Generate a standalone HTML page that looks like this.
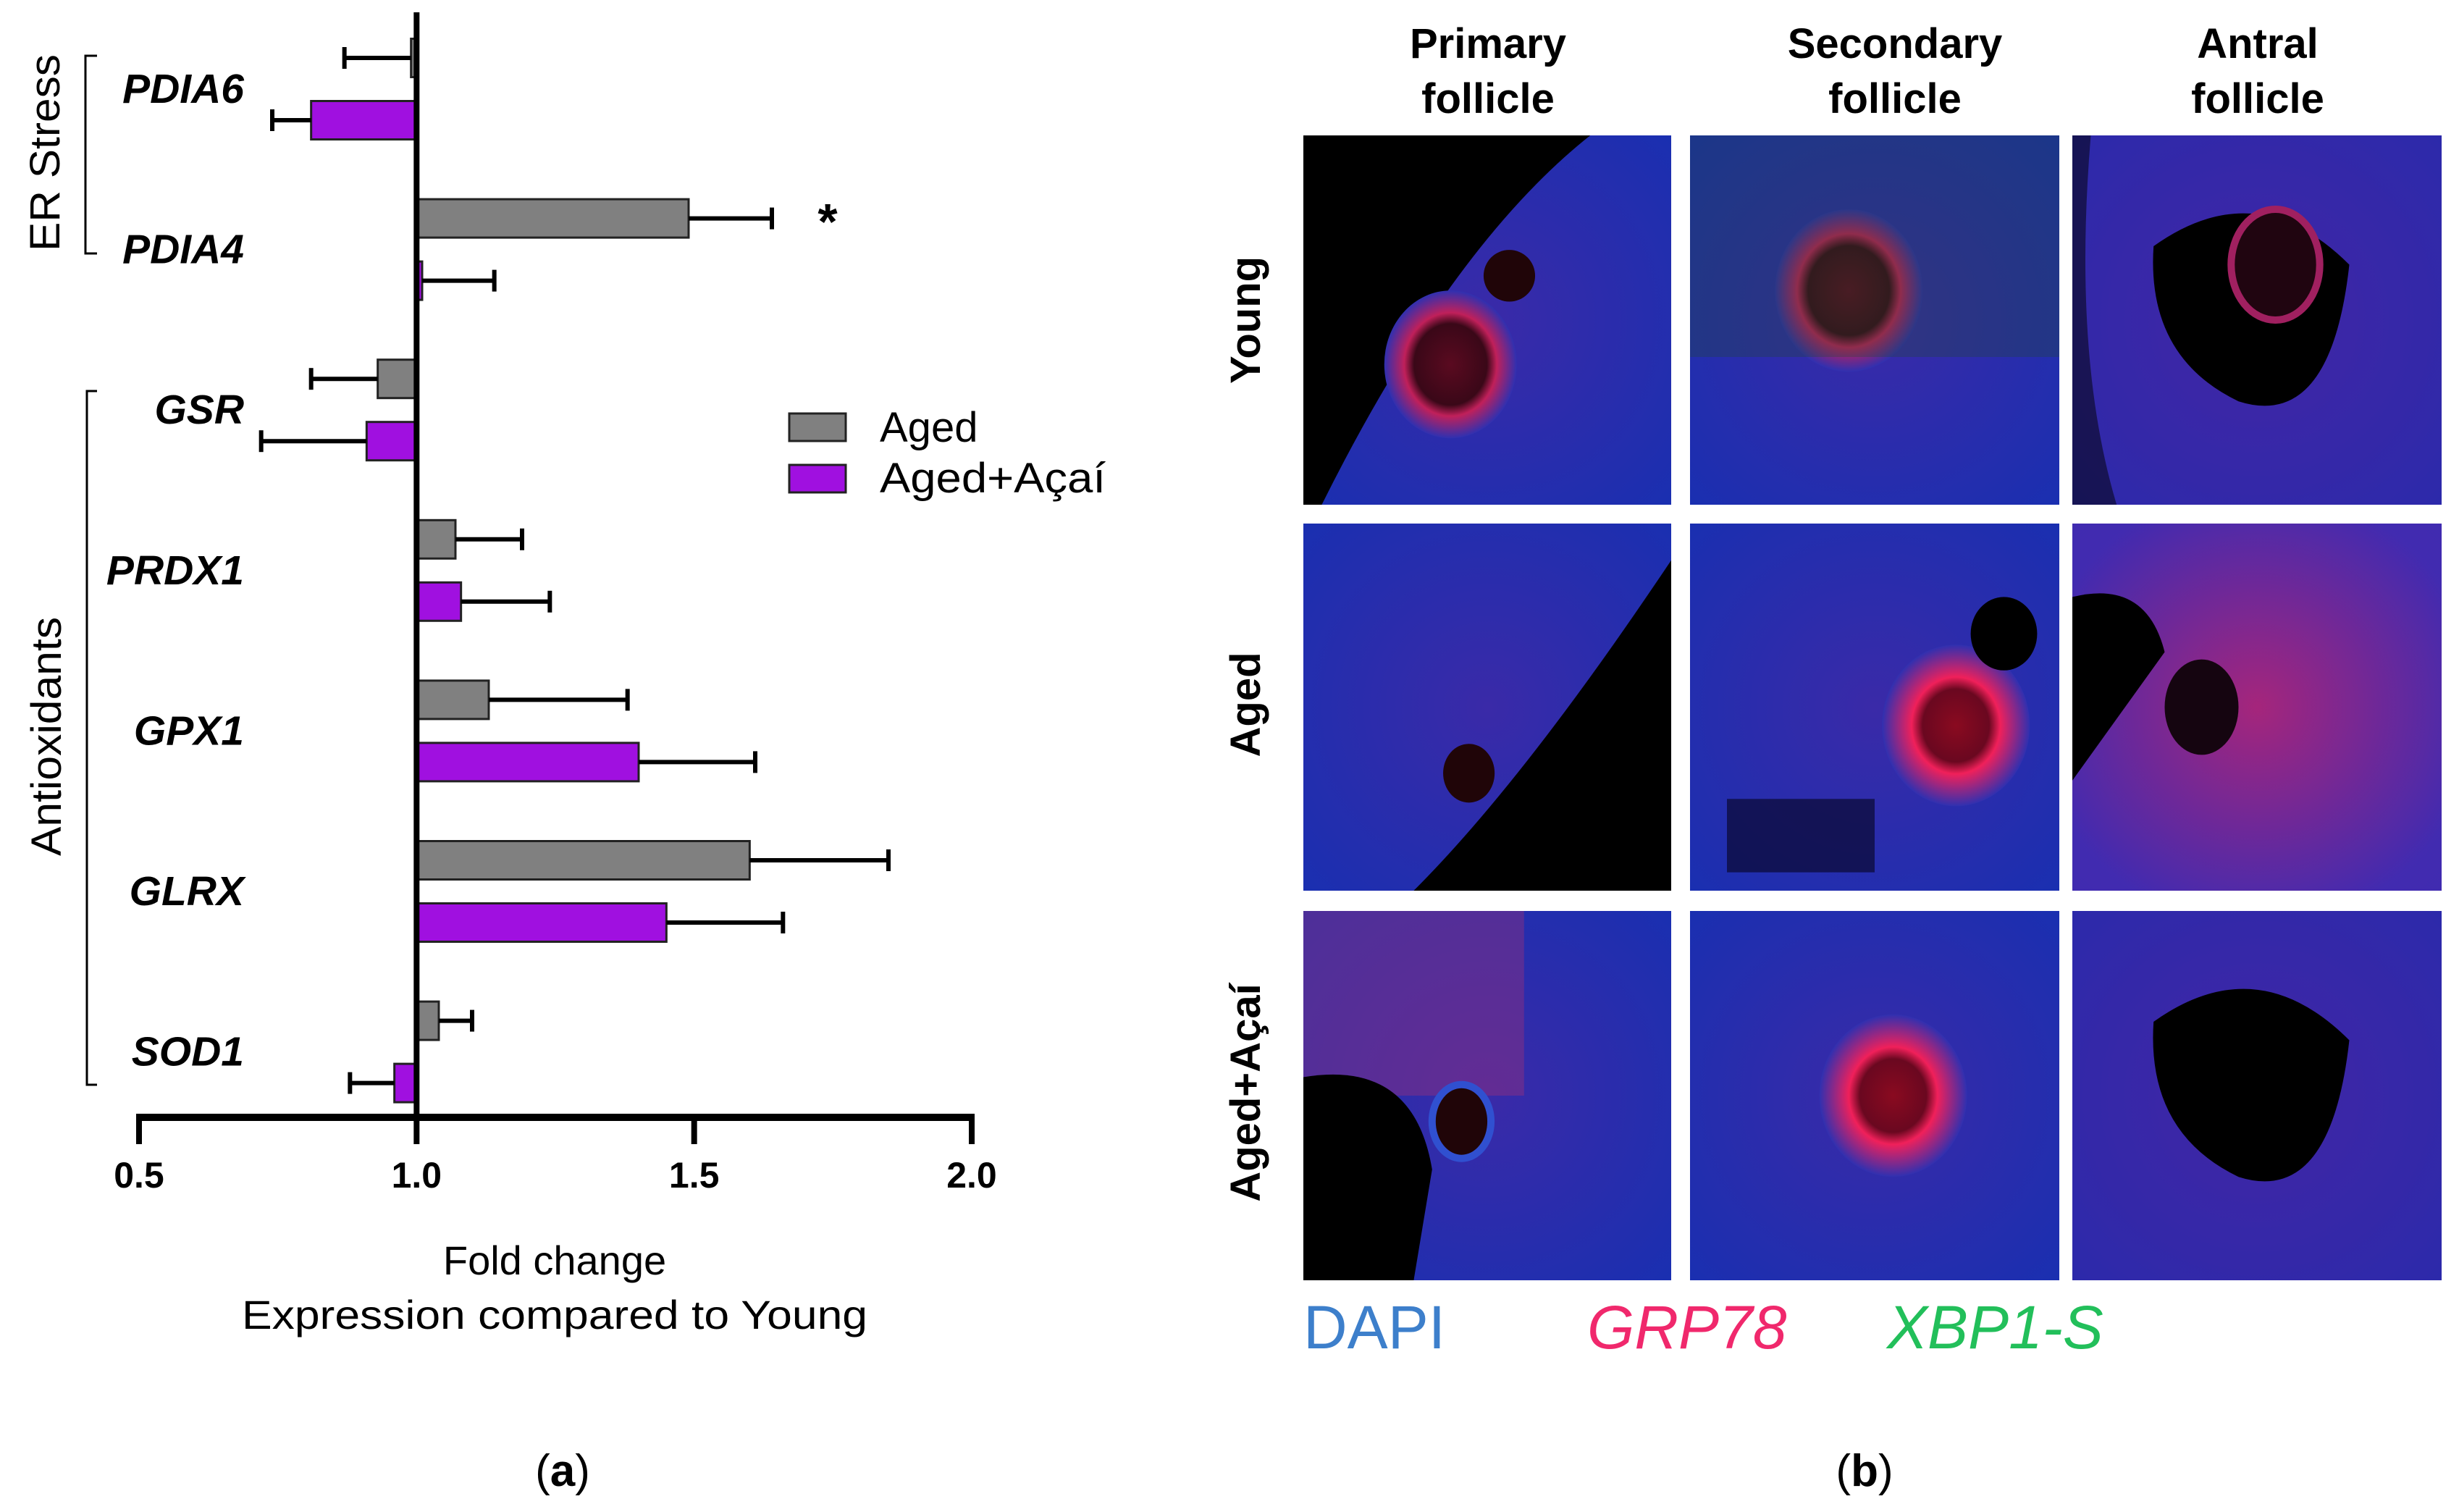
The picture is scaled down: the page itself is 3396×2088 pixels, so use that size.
<!DOCTYPE html>
<html><head><meta charset="utf-8"><style>
html,body{margin:0;padding:0;background:#fff;}
svg{display:block;}
text{font-family:"Liberation Sans",sans-serif;}
</style></head><body>
<svg id="fig" width="3396" height="2088" viewBox="0 0 3396 2088" xmlns="http://www.w3.org/2000/svg">
<defs>
<radialGradient id="gBlue" cx="50%" cy="50%" r="70%"><stop offset="0" stop-color="#3a2aa8"/><stop offset="1" stop-color="#1a2fb0"/></radialGradient>
<radialGradient id="gRed" cx="50%" cy="50%" r="50%"><stop offset="0" stop-color="#5a0a20"/><stop offset="0.55" stop-color="#3a0818"/><stop offset="0.7" stop-color="#c0205a"/><stop offset="1" stop-color="#3030b0"/></radialGradient>
<radialGradient id="gRedStrong" cx="50%" cy="50%" r="50%"><stop offset="0" stop-color="#8a0a20"/><stop offset="0.45" stop-color="#6a0820"/><stop offset="0.6" stop-color="#f0205a"/><stop offset="1" stop-color="#3030b0"/></radialGradient>
<radialGradient id="gPinkField" cx="50%" cy="50%" r="60%"><stop offset="0" stop-color="#c02470"/><stop offset="1" stop-color="#4a2ab0"/></radialGradient>
</defs>
<g id="chart"></g>
<g id="panelb"></g>
<text x="777" y="2052" text-anchor="middle" font-family="Liberation Serif" font-size="62">(<tspan font-weight="bold">a</tspan>)</text>
<text x="2575" y="2052" text-anchor="middle" font-family="Liberation Serif" font-size="62">(<tspan font-weight="bold">b</tspan>)</text>
</svg>
<script>
const genes = ["PDIA6","PDIA4","GSR","PRDX1","GPX1","GLRX","SOD1"];
const agedValues = [0.99, 1.49, 0.93, 1.07, 1.13, 1.60, 1.04];
const agedErrors = [0.87, 1.64, 0.81, 1.19, 1.38, 1.85, 1.10];
const acaiValues = [0.81, 1.01, 0.91, 1.08, 1.40, 1.45, 0.96];
const acaiErrors = [0.74, 1.14, 0.72, 1.24, 1.61, 1.66, 0.88];
const xTicks = [0.5, 1.0, 1.5, 2.0];
const xTickLabels = ["0.5","1.0","1.5","2.0"];

const NS = "http://www.w3.org/2000/svg";
const chart = document.getElementById('chart');
function mk(tag, attrs, parent){const e=document.createElementNS(NS,tag);for(const k in attrs)e.setAttribute(k,attrs[k]);(parent||chart).appendChild(e);return e;}
const x = v => 192 + (v - 0.5) * (1342 - 192) / 1.5;
const yGroup = i => 80 + i * 221.6;
const barH = 53, offP = 86;

genes.forEach((g,i)=>{
  const series=[[agedValues[i],agedErrors[i],"#808080",yGroup(i),"aged"],[acaiValues[i],acaiErrors[i],"#a010e0",yGroup(i)+offP,"acai"]];
  series.forEach(s=>{
    const [v,e,c,cy,nm]=s;
    const x0=x(1), x1=x(v);
    const r=mk('rect',{x:Math.min(x0,x1),y:cy-barH/2,width:Math.max(Math.abs(x1-x0),3),height:barH,fill:c,stroke:"#222","stroke-width":3});
    
    
    const ln=mk('line',{x1:x1,y1:cy,x2:x(e),y2:cy,stroke:"#000","stroke-width":6});
    
    
    const cap=mk('line',{x1:x(e),y1:cy-15,x2:x(e),y2:cy+15,stroke:"#000","stroke-width":6});
    
    
  });
  const t=mk('text',{x:337,y:yGroup(i)+offP/2+19,"text-anchor":"end","font-size":57,"font-weight":"bold","font-style":"italic"});
  t.textContent=g;
  
  
});
const va=mk('line',{x1:x(1),y1:17,x2:x(1),y2:1548,stroke:"#000","stroke-width":8});


const ha=mk('line',{x1:x(0.5)-4,y1:1543,x2:x(2)+4,y2:1543,stroke:"#000","stroke-width":10});


xTicks.forEach((v,i)=>{
  const tk=mk('line',{x1:x(v),y1:1543,x2:x(v),y2:1580,stroke:"#000","stroke-width":8});
  
  
  const tl=mk('text',{x:x(v),y:1640,"text-anchor":"middle","font-size":50,"font-weight":"bold"});
  tl.textContent=xTickLabels[i];
  
  
});
const st=mk('text',{x:1143,y:330,"text-anchor":"middle","font-size":70,"font-weight":"bold"});
st.textContent="*";


</script>
<script>
(function(){
const c=document.getElementById('chart');
c.insertAdjacentHTML('beforeend',`
<path d="M134 77 H118 V350 H134" fill="none" stroke="#000" stroke-width="3"/>
<text transform="translate(82 211) rotate(-90)" text-anchor="middle" font-size="58" textLength="272" lengthAdjust="spacingAndGlyphs">ER Stress</text>
<path d="M134 540 H120 V1498 H134" fill="none" stroke="#000" stroke-width="3"/>
<text transform="translate(84 1017) rotate(-90)" text-anchor="middle" font-size="58" textLength="330" lengthAdjust="spacingAndGlyphs">Antioxidants</text>
<g>
<rect x="1090" y="571" width="78" height="38" fill="#808080" stroke="#222" stroke-width="3"/>
<text x="1215" y="610" font-size="58">Aged</text>
<rect x="1090" y="642" width="78" height="38" fill="#a010e0" stroke="#222" stroke-width="3"/>
<text x="1215" y="680" font-size="58" textLength="312" lengthAdjust="spacingAndGlyphs">Aged+Açaí</text>
</g>
<text x="766" y="1760" text-anchor="middle" font-size="56">Fold change</text>
<text x="766" y="1835" text-anchor="middle" font-size="56" textLength="864" lengthAdjust="spacingAndGlyphs">Expression compared to Young</text>
`);
const p=document.getElementById('panelb');
const cols=[[1800,508],[2334,510],[2862,510]];
const rows=[[187,510],[723,507],[1258,510]];
const colNames=[["Primary","follicle",2055],["Secondary","follicle",2617],["Antral","follicle",3118]];
const rowNames=[["Young",442],["Aged",973],["Aged+Açaí",1509]];
let h='';
colNames.forEach(cn=>{h+=`<text x="${cn[2]}" y="80" text-anchor="middle" font-size="58" font-weight="bold">${cn[0]}</text><text x="${cn[2]}" y="156" text-anchor="middle" font-size="58" font-weight="bold">${cn[1]}</text>`;});
rowNames.forEach(rn=>{h+=`<text transform="translate(1740 ${rn[1]}) rotate(-90)" text-anchor="middle" font-size="58" font-weight="bold">${rn[0]}</text>`;});
rows.forEach((r,ri)=>cols.forEach((cc,ci)=>{
  const X=cc[0],Y=r[0],W=cc[1],H=r[1];
  let s=`<g><rect x="${X}" y="${Y}" width="${W}" height="${H}" fill="url(#gBlue)"/>`;
  if(ci===2&&ri===1){s+=`<rect x="${X}" y="${Y}" width="${W}" height="${H}" fill="url(#gPinkField)" opacity="0.8"/><ellipse cx="${X+W*0.35}" cy="${Y+H*0.5}" rx="${W*0.1}" ry="${H*0.13}" fill="#150510"/><path d="M${X} ${Y+H*0.2} Q${X+W*0.2} ${Y+H*0.15} ${X+W*0.25} ${Y+H*0.35} L${X} ${Y+H*0.7}Z" fill="#000"/>`;}
  if(ci===2&&ri!==1){s+=`<rect x="${X}" y="${Y}" width="${W}" height="${H}" fill="#5020a0" opacity="0.35"/><path d="M${X+W*0.22} ${Y+H*0.3} Q${X+W*0.5} ${Y+H*0.1} ${X+W*0.75} ${Y+H*0.35} Q${X+W*0.7} ${Y+H*0.8} ${X+W*0.45} ${Y+H*0.72} Q${X+W*0.2} ${Y+H*0.6} ${X+W*0.22} ${Y+H*0.3}Z" fill="#000"/>`;if(ri===0)s+=`<ellipse cx="${X+W*0.55}" cy="${Y+H*0.35}" rx="${W*0.12}" ry="${H*0.15}" fill="#200510" stroke="#a02060" stroke-width="10"/><path d="M${X} ${Y} V${Y+H} H${X+W*0.12} Q${X} ${Y+H*0.6} ${X+W*0.05} ${Y}Z" fill="#000" opacity="0.5"/>`;}
  if(ci===1){const g=ri===0?"url(#gRed)":"url(#gRedStrong)";const cx=ri===0?0.43:(ri===1?0.72:0.55),cy=ri===0?0.42:(ri===1?0.55:0.5);s+=`<ellipse cx="${X+W*cx}" cy="${Y+H*cy}" rx="${W*0.2}" ry="${H*0.22}" fill="${g}"/>`;if(ri===1){s+=`<ellipse cx="${X+W*0.85}" cy="${Y+H*0.3}" rx="${W*0.09}" ry="${H*0.1}" fill="#000"/><rect x="${X+W*0.1}" y="${Y+H*0.75}" width="${W*0.4}" height="${H*0.2}" fill="#0a0830" opacity="0.7"/>`;}if(ri===0)s+=`<rect x="${X}" y="${Y}" width="${W}" height="${H*0.6}" fill="#204a30" opacity="0.3"/>`;}
  if(ci===0){if(ri===0)s+=`<path d="M${X} ${Y} H${X+W*0.78} Q${X+W*0.4} ${Y+H*0.3} ${X+W*0.05} ${Y+H} H${X}Z" fill="#000"/><ellipse cx="${X+W*0.4}" cy="${Y+H*0.62}" rx="${W*0.18}" ry="${H*0.2}" fill="url(#gRed)"/><ellipse cx="${X+W*0.56}" cy="${Y+H*0.38}" rx="${W*0.07}" ry="${H*0.07}" fill="#200508"/>`;
    if(ri===1)s+=`<path d="M${X+W} ${Y+H*0.1} Q${X+W*0.6} ${Y+H*0.7} ${X+W*0.3} ${Y+H} H${X+W}Z" fill="#000"/><ellipse cx="${X+W*0.45}" cy="${Y+H*0.68}" rx="${W*0.07}" ry="${H*0.08}" fill="#200508"/>`;
    if(ri===2)s+=`<rect x="${X}" y="${Y}" width="${W*0.6}" height="${H*0.5}" fill="#b03070" opacity="0.35"/><path d="M${X} ${Y+H*0.45} Q${X+W*0.3} ${Y+H*0.4} ${X+W*0.35} ${Y+H*0.7} L${X+W*0.3} ${Y+H} H${X}Z" fill="#000"/><ellipse cx="${X+W*0.43}" cy="${Y+H*0.57}" rx="${W*0.08}" ry="${H*0.1}" fill="#200508" stroke="#3050d0" stroke-width="10"/>`;}
  s+=`</g>`;h+=s;
}));
h+=`<text x="1800" y="1862" font-size="84" fill="#3d7fcb">DAPI</text>
<text x="2192" y="1862" font-size="84" font-style="italic" fill="#f0286c">GRP78</text>
<text x="2606" y="1862" font-size="84" font-style="italic" fill="#22bf5a">XBP1-S</text>`;
p.insertAdjacentHTML('beforeend',h);
})();
</script>
</body></html>
